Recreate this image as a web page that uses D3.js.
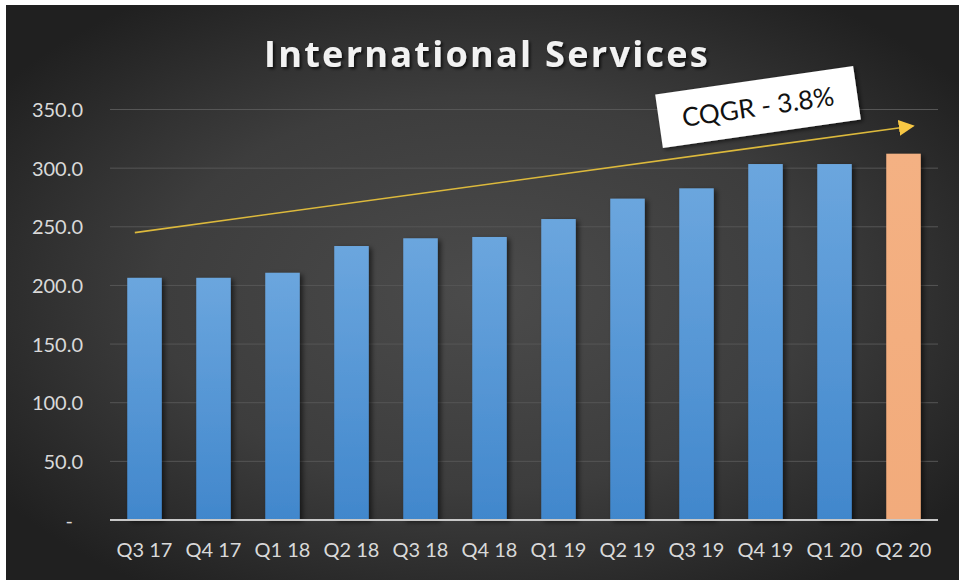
<!DOCTYPE html>
<html>
<head>
<meta charset="utf-8">
<script src="https://cdn.jsdelivr.net/npm/d3@7"></script>
<style>
  html, body { margin: 0; padding: 0; background: #ffffff; }
  svg { display: block; }
</style>
</head>
<body>
<svg id="chart" width="959" height="580"></svg>
<script>
// Quarterly revenue, International Services
const quarters = ["Q3 17", "Q4 17", "Q1 18", "Q2 18", "Q3 18", "Q4 18",
                  "Q1 19", "Q2 19", "Q3 19", "Q4 19", "Q1 20", "Q2 20"];
const revenue = [206.5, 206.5, 210.8, 233.6, 240.2, 241.3,
                 256.6, 274.0, 282.8, 303.5, 303.5, 312.3];
const yTicks = [0, 50, 100, 150, 200, 250, 300, 350];
// Trend arrow endpoints: [category position, value]
const trendStart = [-0.14, 245];
const trendEnd = [11.14, 336];
const chartTitle = "International Services";
const calloutText = "CQGR - 3.8%";

const svg = d3.select("#chart");
const W = 959, H = 580;
const plot = { left: 110, right: 938, top: 109.5, bottom: 520 };
const font = "Lato, 'Open Sans', sans-serif";

const defs = svg.append("defs");

// Dark radial background
const bg = defs.append("radialGradient").attr("id", "bg")
  .attr("cx", "50%").attr("cy", "50%").attr("r", "62%");
bg.append("stop").attr("offset", "0%").attr("stop-color", "#4b4b4b");
bg.append("stop").attr("offset", "55%").attr("stop-color", "#3d3d3d");
bg.append("stop").attr("offset", "100%").attr("stop-color", "#202020");

const blue = defs.append("linearGradient").attr("id", "blueBar")
  .attr("x1", 0).attr("y1", 0).attr("x2", 0).attr("y2", 1);
blue.append("stop").attr("offset", "0%").attr("stop-color", "#6ba6de");
blue.append("stop").attr("offset", "100%").attr("stop-color", "#4187cc");

const orange = defs.append("linearGradient").attr("id", "orangeBar")
  .attr("x1", 0).attr("y1", 0).attr("x2", 0).attr("y2", 1);
orange.append("stop").attr("offset", "0%").attr("stop-color", "#f4b183");
orange.append("stop").attr("offset", "100%").attr("stop-color", "#f2ab7b");

const shadow = defs.append("filter").attr("id", "barShadow")
  .attr("x", "-30%").attr("y", "-10%").attr("width", "160%").attr("height", "120%");
shadow.append("feDropShadow").attr("dx", 3).attr("dy", 2).attr("stdDeviation", 2.5)
  .attr("flood-color", "#000").attr("flood-opacity", 0.55);

const textShadow = defs.append("filter").attr("id", "textShadow")
  .attr("x", "-10%").attr("y", "-30%").attr("width", "120%").attr("height", "160%");
textShadow.append("feDropShadow").attr("dx", 2).attr("dy", 2).attr("stdDeviation", 1.5)
  .attr("flood-color", "#000").attr("flood-opacity", 0.7);

const boxShadow = defs.append("filter").attr("id", "boxShadow")
  .attr("x", "-10%").attr("y", "-20%").attr("width", "120%").attr("height", "140%");
boxShadow.append("feDropShadow").attr("dx", 2).attr("dy", 2).attr("stdDeviation", 2)
  .attr("flood-color", "#000").attr("flood-opacity", 0.6);

const arrowHead = defs.append("marker").attr("id", "arrowHead")
  .attr("viewBox", "0 0 10 10").attr("refX", 9).attr("refY", 5)
  .attr("markerUnits", "userSpaceOnUse")
  .attr("markerWidth", 16).attr("markerHeight", 16).attr("orient", "auto");
arrowHead.append("path").attr("d", "M0,0 L10,5 L0,10 Z").attr("fill", "#f7c744");

// Frame
svg.append("rect").attr("x", 6).attr("y", 5).attr("width", W - 6).attr("height", H - 5)
  .attr("fill", "url(#bg)");

// Scales
const x = d3.scaleBand().domain(quarters).range([plot.left, plot.right])
  .paddingInner(0.5).paddingOuter(0.25);
const y = d3.scaleLinear().domain([0, 350]).range([plot.bottom, plot.top]);
const xPos = d3.scaleLinear().domain([0, quarters.length - 1])
  .range([x(quarters[0]) + x.bandwidth() / 2, x(quarters[quarters.length - 1]) + x.bandwidth() / 2]);

// Gridlines
svg.append("g").selectAll("line").data(yTicks.filter(d => d > 0)).join("line")
  .attr("x1", plot.left).attr("x2", plot.right)
  .attr("y1", d => y(d)).attr("y2", d => y(d))
  .attr("stroke", "#565656").attr("stroke-width", 1);

// Y axis labels
const yAxis = d3.axisLeft(y).tickValues(yTicks)
  .tickFormat(d => d === 0 ? "-" : d3.format(".1f")(d))
  .tickSize(0).tickPadding(0);
const yG = svg.append("g").attr("transform", `translate(83,0)`).call(yAxis);
yG.select(".domain").remove();
yG.selectAll("text").attr("fill", "#d9d9d9").attr("font-family", font)
  .attr("font-size", 20).attr("dy", "0.35em");
yG.selectAll(".tick").filter(d => d === 0).select("text").attr("dx", -10);

// Bars
svg.append("g").selectAll("rect").data(revenue).join("rect")
  .attr("x", (d, i) => x(quarters[i]))
  .attr("width", x.bandwidth())
  .attr("y", d => y(d))
  .attr("height", d => y(0) - y(d))
  .attr("fill", (d, i) => i === revenue.length - 1 ? "url(#orangeBar)" : "url(#blueBar)")
  .attr("filter", "url(#barShadow)");

// Baseline and category labels
const xAxis = d3.axisBottom(x).tickSize(0).tickPadding(0);
const xG = svg.append("g").attr("transform", `translate(0,${y(0)})`).call(xAxis);
xG.select(".domain").attr("stroke", "#c8c8c8").attr("stroke-width", 2)
  .attr("d", `M${plot.left},0H${plot.right}`);
xG.selectAll("text").attr("fill", "#d9d9d9").attr("font-family", font)
  .attr("font-size", 20).attr("y", 30).attr("dy", "0.35em");

// Trend arrow
svg.append("line")
  .attr("x1", xPos(trendStart[0])).attr("y1", y(trendStart[1]))
  .attr("x2", xPos(trendEnd[0])).attr("y2", y(trendEnd[1]))
  .attr("stroke", "#dcb93c").attr("stroke-width", 1.6)
  .attr("marker-end", "url(#arrowHead)");

// Growth callout
const callout = svg.append("g").attr("transform", "translate(758,107) rotate(-8.2)");
callout.append("rect").attr("x", -100).attr("y", -27).attr("width", 200).attr("height", 54)
  .attr("fill", "#ffffff").attr("filter", "url(#boxShadow)");
callout.append("text").attr("text-anchor", "middle").attr("dy", "0.35em")
  .attr("font-family", font).attr("font-size", 26).attr("fill", "#111")
  .text(calloutText);

// Title
svg.append("text").attr("x", 487).attr("y", 67).attr("text-anchor", "middle")
  .attr("font-family", "'Open Sans', sans-serif").attr("font-weight", "bold")
  .attr("font-size", 36).attr("letter-spacing", 2.3).attr("fill", "#f2f2f2")
  .attr("filter", "url(#textShadow)")
  .text(chartTitle);
</script>
</body>
</html>
